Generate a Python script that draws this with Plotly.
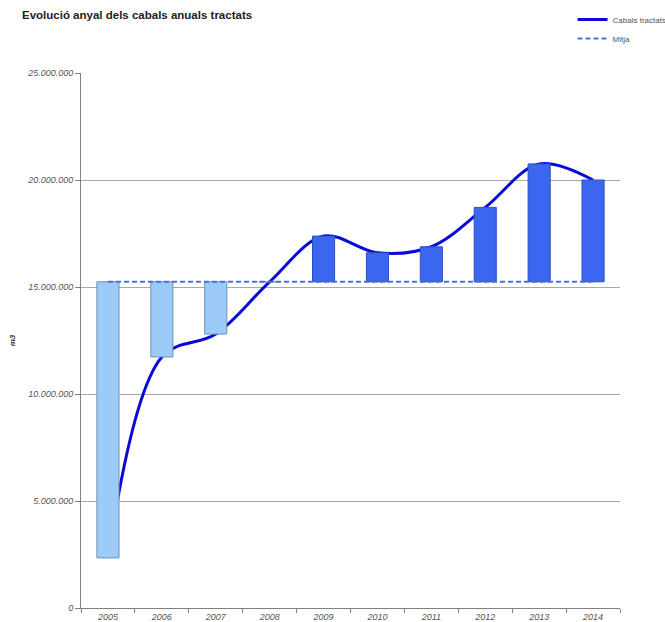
import plotly.graph_objects as go

years = ["2005", "2006", "2007", "2008", "2009", "2010", "2011", "2012", "2013", "2014"]
cabals = [2340000, 11730000, 12800000, 15240000, 17380000, 16600000, 16880000, 18720000, 20750000, 20000000]
mitja_val = sum(cabals) / len(cabals)
mitja = [mitja_val] * len(years)
ytick_vals = [0, 5000000, 10000000, 15000000, 20000000, 25000000]

LIGHT = "#9ccbfa"
DARK = "#3a66f0"
bar_colors = [LIGHT if v < mitja_val else DARK for v in cabals]
bar_lines = ["#6f8fb5" if v < mitja_val else "#2c4fc0" for v in cabals]

fig = go.Figure()

# smoothed line on base axes (drawn below bars)
fig.add_trace(go.Scatter(
    x=years, y=cabals, mode="lines", name="Cabals tractats",
    line=dict(color="#0a0ad8", width=3, shape="spline", smoothing=1.0),
    xaxis="x", yaxis="y", hoverinfo="skip"))

# floating bars on overlay axes (drawn above line)
fig.add_trace(go.Bar(
    x=years, y=[v - mitja_val for v in cabals], base=mitja,
    marker=dict(color=bar_colors, line=dict(color=bar_lines, width=1)),
    width=0.41, showlegend=False, xaxis="x2", yaxis="y2", hoverinfo="skip"))

fig.add_trace(go.Scatter(
    x=years, y=mitja, mode="lines", name="Mitja",
    line=dict(color="#4a6fd8", width=2, dash="5px,3px"),
    xaxis="x2", yaxis="y2", hoverinfo="skip"))

tickfont = dict(family="Liberation Sans, Arial, sans-serif", size=9, color="#555555", style="italic")

fig.update_layout(
    width=665, height=622,
    margin=dict(l=81, r=45, t=73, b=14, autoexpand=False),
    paper_bgcolor="white", plot_bgcolor="white",
    separators=",.",
    title=dict(text="<b>Evolució anyal dels cabals anuals tractats</b>",
               font=dict(family="Liberation Sans, Arial, sans-serif", size=11.5, color="#222222"),
               xref="container", x=22/665, xanchor="left",
               yref="container", y=1 - 11/622, yanchor="top"),
    xaxis=dict(type="category", categoryorder="array", categoryarray=years,
               range=[-0.5, 9.5], showgrid=False, tickson="boundaries",
               ticks="outside", ticklen=4, tickcolor="#808080",
               showline=True, linecolor="#808080", linewidth=1,
               tickfont=tickfont, zeroline=False, automargin=False),
    yaxis=dict(range=[0, 25000000], tickvals=ytick_vals, tickformat=",d",
               showgrid=True, gridcolor="#a8a8a8", gridwidth=1,
               ticks="outside", ticklen=5, tickcolor="#808080",
               showline=True, linecolor="#808080", linewidth=1,
               tickfont=tickfont, zeroline=False, automargin=False,
               title=dict(text="<b>m3</b>", standoff=10,
                          font=dict(family="Liberation Sans, Arial, sans-serif", size=8,
                                    color="#333333", style="italic"))),
    xaxis2=dict(type="category", categoryorder="array", categoryarray=years,
                range=[-0.5, 9.5], overlaying="x", visible=False),
    yaxis2=dict(range=[0, 25000000], overlaying="y", visible=False),
    showlegend=True,
    legend=dict(x=0.912, y=1.127, xanchor="left", yanchor="top",
                bgcolor="rgba(0,0,0,0)",
                font=dict(family="Liberation Sans, Arial, sans-serif", size=8, color="#555555"),
                tracegroupgap=0),
)

fig.write_html("out.html", config={"displayModeBar": False},
               post_script="document.body.style.margin='0';")
